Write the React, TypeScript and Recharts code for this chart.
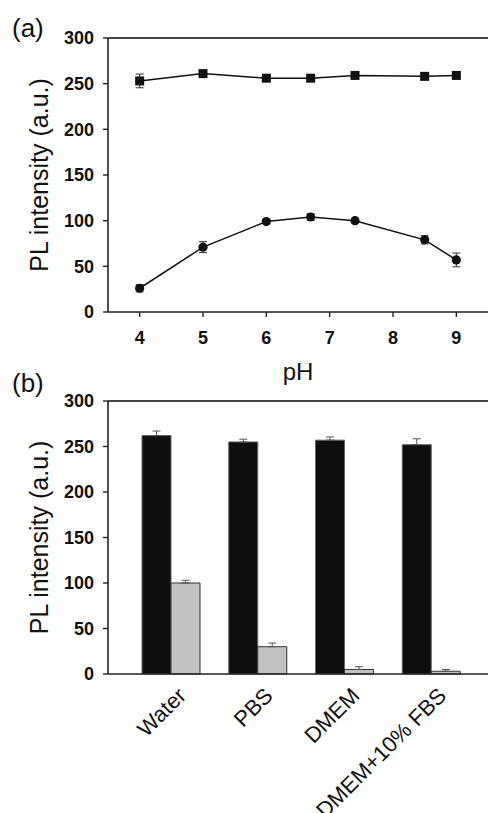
import React from 'react';
import {
  LineChart, Line, BarChart, Bar, XAxis, YAxis, ErrorBar, ReferenceLine,
} from 'recharts';

// ---- Panel (a): PL intensity vs pH ----
const phValues = [4, 5, 6, 6.7, 7.4, 8.5, 9];
const squareSeries = [253, 261, 256, 256, 259, 258, 259];
const squareErr = [7.5, 2, 2, 2, 2, 2, 2];
const circleSeries = [26, 71, 99, 104, 100, 79, 57];
const circleErr = [4, 6, 2, 3.5, 2, 4.5, 7.5];
const phTicks = [4, 5, 6, 7, 8, 9];
const intensityTicks = [0, 50, 100, 150, 200, 250, 300];

// ---- Panel (b): PL intensity in different media ----
const mediaCategories = ['Water', 'PBS', 'DMEM', 'DMEM+10% FBS'];
const blackBars = [262, 255, 257, 252];
const blackErr = [5, 3, 3.5, 6.5];
const greyBars = [100, 30, 5, 3];
const greyErr = [3, 4, 3, 2];

const lineData = phValues.map((ph, i) => ({
  ph,
  sq: squareSeries[i],
  sqErr: squareErr[i],
  ci: circleSeries[i],
  ciErr: circleErr[i],
}));

const barData = mediaCategories.map((name, i) => ({
  name,
  black: blackBars[i],
  blackErr: [0, blackErr[i]],
  grey: greyBars[i],
  greyErr: [0, greyErr[i]],
}));

const FONT = "'Liberation Sans', Arial, Helvetica, sans-serif";
const AXIS_COLOR = '#222';
const tickStyle = { fontSize: 18, fontWeight: 700, fill: '#111', fontFamily: FONT };
const labelStyle = { fontSize: 25, fill: '#111', fontFamily: FONT };

const renderSquare = (p: any) => (
  <rect key={`sq-${p.index}`} x={p.cx - 4.5} y={p.cy - 4.5} width={9} height={9} fill="#111" />
);
const renderCircle = (p: any) => (
  <circle key={`ci-${p.index}`} cx={p.cx} cy={p.cy} r={4.6} fill="#111" />
);

const MediaTick = (props: any) => {
  const { x, y, payload } = props;
  const ax = x + 5;
  return (
    <text
      x={ax}
      y={y}
      dy="0.71em"
      textAnchor="end"
      transform={`rotate(-45 ${ax} ${y})`}
      style={{ fontSize: 22, fill: '#111', fontFamily: FONT }}
    >
      {payload.value}
    </text>
  );
};

const panelLetter = (top: number): React.CSSProperties => ({
  position: 'absolute',
  left: 12,
  top,
  fontSize: 26,
  lineHeight: '26px',
  fontFamily: FONT,
  color: '#111',
});

export default function App() {
  return (
    <div style={{ position: 'absolute', left: 0, top: 0, width: 488, height: 813, background: '#fff', overflow: 'hidden' }}>
      <div style={panelLetter(15)}>(a)</div>
      <div style={panelLetter(370)}>(b)</div>

      <div style={{ position: 'absolute', left: 0, top: 0 }}>
        <LineChart width={488} height={390} data={lineData} margin={{ top: 38, right: 0, left: 0, bottom: 8 }}>
          <XAxis
            dataKey="ph"
            type="number"
            domain={[3.5, 9.5]}
            ticks={phTicks}
            allowDataOverflow
            height={70}
            tickSize={5}
            tickMargin={14}
            tick={tickStyle}
            axisLine={{ stroke: AXIS_COLOR, strokeWidth: 1.6 }}
            tickLine={{ stroke: AXIS_COLOR, strokeWidth: 1.4 }}
            label={{ value: 'pH', position: 'insideBottom', offset: 2, style: { ...labelStyle, fontSize: 24, textAnchor: 'middle' } }}
          />
          <YAxis
            type="number"
            domain={[0, 300]}
            ticks={intensityTicks}
            width={108}
            tickSize={5}
            tickMargin={9}
            tick={tickStyle}
            axisLine={{ stroke: AXIS_COLOR, strokeWidth: 1.6 }}
            tickLine={{ stroke: AXIS_COLOR, strokeWidth: 1.4 }}
            label={{ value: 'PL intensity (a.u.)', angle: -90, position: 'insideLeft', offset: 39, style: { ...labelStyle, textAnchor: 'middle' } }}
          />
          <ReferenceLine y={300} stroke="#444" strokeWidth={1.8} />
          <Line dataKey="sq" stroke="#111" strokeWidth={1.5} dot={renderSquare} isAnimationActive={false}>
            <ErrorBar dataKey="sqErr" width={4} stroke="#333" strokeWidth={1} direction="y" isAnimationActive={false} />
          </Line>
          <Line dataKey="ci" stroke="#111" strokeWidth={1.5} dot={renderCircle} isAnimationActive={false}>
            <ErrorBar dataKey="ciErr" width={4} stroke="#333" strokeWidth={1} direction="y" isAnimationActive={false} />
          </Line>
        </LineChart>
      </div>

      <div style={{ position: 'absolute', left: 0, top: 390 }}>
        <BarChart width={488} height={423} data={barData} margin={{ top: 11, right: 0, left: 0, bottom: 9 }} barGap={0}>
          <XAxis
            dataKey="name"
            type="category"
            height={130}
            padding={{ left: 20, right: 13 }}
            tickLine={false}
            tickSize={0}
            tickMargin={12}
            tick={<MediaTick />}
            interval={0}
            axisLine={{ stroke: AXIS_COLOR, strokeWidth: 1.6 }}
          />
          <YAxis
            type="number"
            domain={[0, 300]}
            ticks={intensityTicks}
            width={108}
            tickSize={5}
            tickMargin={9}
            tick={tickStyle}
            axisLine={{ stroke: AXIS_COLOR, strokeWidth: 1.6 }}
            tickLine={{ stroke: AXIS_COLOR, strokeWidth: 1.4 }}
            label={{ value: 'PL intensity (a.u.)', angle: -90, position: 'insideLeft', offset: 39, style: { ...labelStyle, textAnchor: 'middle' } }}
          />
          <ReferenceLine y={300} stroke="#444" strokeWidth={1.8} />
          <Bar dataKey="black" barSize={29} fill="#0e0e0e" stroke="#666" strokeWidth={1} isAnimationActive={false}>
            <ErrorBar dataKey="blackErr" width={4} stroke="#555" strokeWidth={1} direction="y" isAnimationActive={false} />
          </Bar>
          <Bar dataKey="grey" barSize={29} fill="#c2c2c2" stroke="#333" strokeWidth={1} isAnimationActive={false}>
            <ErrorBar dataKey="greyErr" width={4} stroke="#555" strokeWidth={1} direction="y" isAnimationActive={false} />
          </Bar>
        </BarChart>
      </div>
    </div>
  );
}
